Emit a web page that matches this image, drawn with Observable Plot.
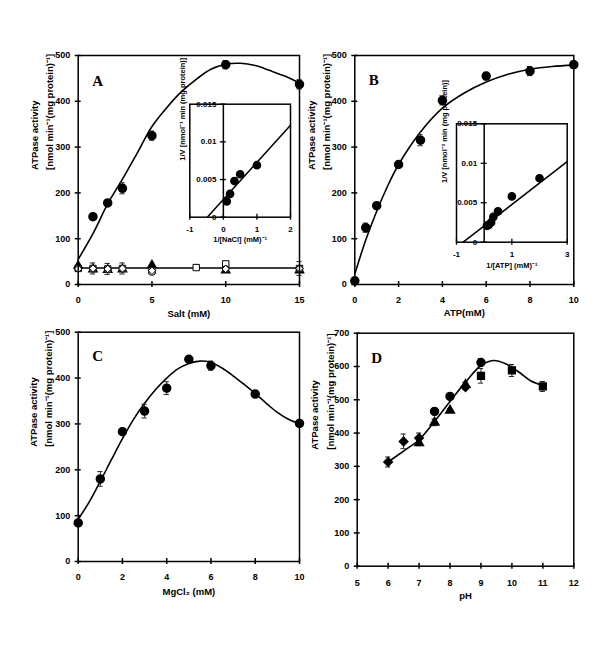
<!DOCTYPE html>
<html><head><meta charset="utf-8">
<script src="https://cdn.jsdelivr.net/npm/d3@7"></script>
<script src="https://cdn.jsdelivr.net/npm/@observablehq/plot@0.6"></script>
<style>
html,body{margin:0;padding:0;background:#fff;}
#fig{position:relative;width:600px;height:657px;background:#fff;overflow:hidden;}
#fig svg{position:absolute;max-width:none;}
</style></head><body><div id="fig"></div>
<script>
// ---------- Panel A : salt ----------
const saltX = [1, 2, 3, 5, 10, 15];
const saltY = [148, 178, 210, 325, 480, 437];
const saltErr = [4, 6, 12, 10, 9, 10];
const saltCurveX = [0, 1, 2, 3, 4, 5, 6, 7, 8, 9, 10, 11, 12, 13, 14, 15];
const saltCurveY = [55, 111, 176, 230, 287, 345, 386, 421, 448, 470, 481, 483, 478, 467, 455, 440];
const baseLineX = [0, 15];
const baseLineY = [36, 36];
const aTriX = [0, 1, 2, 3, 5, 10, 15];
const aTriY = [41, 33, 32, 33, 42, 31, 31];
const aSqX = [0, 1, 2, 3, 5, 8, 10, 15];
const aSqY = [35, 35, 34, 35, 30, 37, 45, 35];
const aSqErr = [0, 12, 12, 12, 0, 0, 0, 0];
const aCircX = [0, 1, 2, 3, 5, 10, 15];
const aCircY = [35, 34, 33, 34, 27, 34, 34];
const aDiaX = [0, 1, 2, 3, 5, 10, 15];
const aDiaY = [34, 35, 34, 35, 30, 34, 35];
const aDiaErr = [0, 0, 0, 0, 0, 0, 15];
const saltTicksX = [0, 5, 10, 15];
const actTicksY = [0, 100, 200, 300, 400, 500];

// Inset A : Lineweaver-Burk NaCl
const invNaClX = [0.1, 0.2, 0.33, 0.5, 1.0];
const invNaClY = [0.0021, 0.0031, 0.0048, 0.0057, 0.0069];
const naclFitX = [-0.48, 2];
const naclFitY = [0, 0.0122];
const insetATicksX = [-1, 0, 1, 2];
const insetTicksY = [0, 0.005, 0.01, 0.015];

// ---------- Panel B : ATP ----------
const atpX = [0, 0.5, 1, 2, 3, 4, 6, 8, 10];
const atpY = [8, 124, 172, 262, 315, 402, 455, 466, 480];
const atpErr = [5, 10, 5, 6, 12, 10, 8, 10, 8];
const atpCurveX = [0, 0.5, 1, 1.5, 2, 3, 4, 5, 6, 7, 8, 9, 10];
const atpCurveY = [23, 97, 160, 215, 262, 333, 385, 418, 442, 459, 470, 476, 479];
const atpTicksX = [0, 2, 4, 6, 8, 10];

// Inset B : Lineweaver-Burk ATP
const invAtpX = [0.1, 0.125, 0.167, 0.25, 0.33, 0.5, 1, 2];
const invAtpY = [0.00208, 0.00215, 0.0022, 0.0025, 0.0032, 0.0039, 0.0058, 0.0081];
const atpFitX = [-0.76, 3];
const atpFitY = [0, 0.0102];
const insetBTicksX = [-1, 1, 3];

// ---------- Panel C : MgCl2 ----------
const mgX = [0, 1, 2, 3, 4, 5, 6, 8, 10];
const mgY = [84, 180, 283, 328, 378, 441, 427, 365, 301];
const mgErr = [5, 16, 5, 15, 14, 5, 10, 5, 5];
const mgCurveX = [0, 0.5, 1, 1.5, 2, 2.5, 3, 3.5, 4, 4.5, 5, 5.5, 6, 6.5, 7, 7.5, 8, 8.5, 9, 9.5, 10];
const mgCurveY = [92, 130, 175, 222, 268, 310, 345, 375, 400, 420, 432, 437, 434, 422, 405, 386, 366, 345, 325, 310, 300];
const mgTicksX = [0, 2, 4, 6, 8, 10];

// ---------- Panel D : pH ----------
const dDiaX = [6, 6.5, 7, 8.5];
const dDiaY = [313, 375, 385, 538];
const dDiaErr = [15, 22, 15, 8];
const dTriX = [7, 7.5, 8, 8.5];
const dTriY = [370, 432, 468, 545];
const dTriErr = [8, 10, 5, 8];
const dCircX = [7.5, 8, 9];
const dCircY = [465, 510, 612];
const dCircErr = [8, 6, 12];
const dSqX = [9, 10, 11];
const dSqY = [572, 588, 540];
const dSqErr = [22, 18, 15];
const phCurveX = [6, 6.5, 7, 7.5, 8, 8.5, 9, 9.4, 9.8, 10.2, 10.6, 11];
const phCurveY = [313, 346, 380, 435, 495, 553, 603, 618, 608, 585, 557, 543];
const phTicksX = [5, 6, 7, 8, 9, 10, 11, 12];
const phTicksY = [0, 100, 200, 300, 400, 500, 600, 700];

// ---------- Texts ----------
const yTitle = ["ATPase activity", "[nmol min\u207B\u00B9(mg protein)\u207B\u00B9]"];
const insetYTitle = "1/V [nmol\u207B\u00B9 min (mg protein)]";

// ---------- helpers ----------
const FONT = '"Liberation Sans", Arial, Helvetica, sans-serif';
const SERIF = '"Liberation Serif", "Times New Roman", serif';
const fig = document.getElementById("fig");
const zip = (xs, ys, es) => xs.map((x, i) => ({x, y: ys[i], e: es ? es[i] : 0}));

function errorMarks(data, cw) {
  const d = data.filter(p => p.e > 0);
  const s = {stroke: "#222", strokeWidth: 1};
  return [
    Plot.ruleX(d, {x: "x", y1: p => p.y - p.e, y2: p => p.y + p.e, ...s}),
    Plot.ruleY(d, {y: p => p.y + p.e, x1: p => p.x - cw, x2: p => p.x + cw, ...s}),
    Plot.ruleY(d, {y: p => p.y - p.e, x1: p => p.x - cw, x2: p => p.x + cw, ...s})
  ];
}

function place(svg, left, top) {
  svg.style.position = "absolute";
  svg.style.left = left + "px";
  svg.style.top = top + "px";
  svg.style.background = "transparent";
  svg.style.overflow = "visible";
  fig.appendChild(svg);
}

function mainPanel(cfg) {
  const fw = cfg.width - cfg.ml - cfg.mr, fh = cfg.height - cfg.mt - cfg.mb;
  const cw = 2.6 * (cfg.xDomain[1] - cfg.xDomain[0]) / fw;
  const svg = Plot.plot({
    width: cfg.width, height: cfg.height,
    marginLeft: cfg.ml, marginRight: cfg.mr, marginTop: cfg.mt, marginBottom: cfg.mb,
    x: {domain: cfg.xDomain}, y: {domain: cfg.yDomain},
    style: {background: "transparent", fontFamily: FONT, fontWeight: "bold", color: "black", overflow: "visible"},
    marks: [
      ...cfg.content(cw),
      Plot.frame({stroke: "black", strokeWidth: 1.5}),
      Plot.tickX(cfg.xTicks, {x: d => d, insetTop: fh - 6, dy: 3, stroke: "black", strokeWidth: 1.5}),
      Plot.tickY(cfg.yTicks, {y: d => d, insetRight: fw - 6, dx: -3, stroke: "black", strokeWidth: 1.5}),
      Plot.axisX({ticks: cfg.xTicks, tickSize: 0, tickPadding: cfg.xPad, label: null, tickFormat: d => String(d), fontSize: 9, fontWeight: "bold"}),
      Plot.axisY({ticks: cfg.yTicks, tickSize: 0, tickPadding: 8, label: null, tickFormat: d => String(d), fontSize: 9, fontWeight: "bold"}),
      Plot.text([yTitle.join("\n")], {text: d => d, frameAnchor: "left", dx: cfg.yTitleDx, rotate: -90, lineHeight: 1.6, fontSize: 9.5, fontWeight: "bold"}),
      Plot.text([cfg.xTitle], {text: d => d, frameAnchor: "bottom", dy: cfg.xTitleDy, fontSize: 9.5, fontWeight: "bold"}),
      Plot.text([cfg.letter], {text: d => d, frameAnchor: "top-left", dx: 14, dy: cfg.letterDy, textAnchor: "start", fontFamily: SERIF, fontSize: 15, fontWeight: "bold"})
    ]
  });
  place(svg, cfg.left, cfg.top);
}

function insetPanel(cfg) {
  const fw = cfg.width - cfg.ml - cfg.mr, fh = cfg.height - cfg.mt - cfg.mb;
  const [x0, x1] = cfg.xDomain;
  const axisPx = fw * (0 - x0) / (x1 - x0);
  const svg = Plot.plot({
    width: cfg.width, height: cfg.height,
    marginLeft: cfg.ml, marginRight: cfg.mr, marginTop: cfg.mt, marginBottom: cfg.mb,
    x: {domain: cfg.xDomain}, y: {domain: cfg.yDomain, axis: null},
    style: {background: "transparent", fontFamily: FONT, fontWeight: "bold", color: "black", overflow: "visible"},
    marks: [
      Plot.ruleX([0], {stroke: "black", strokeWidth: 1.5}),
      Plot.line(zip(cfg.fitX, cfg.fitY), {x: "x", y: "y", stroke: "black", strokeWidth: 1.5}),
      Plot.dot(zip(cfg.px, cfg.py), {x: "x", y: "y", r: 3.6, fill: "black", stroke: "black"}),
      Plot.text(cfg.yTicks, {x: () => 0, y: d => d, text: d => String(d), dx: -7, textAnchor: "end", fontSize: 8, fontWeight: "bold"}),
      Plot.frame({stroke: "black", strokeWidth: 1.5}),
      Plot.tickY(cfg.yTicks, {y: d => d, insetLeft: axisPx - 3, insetRight: fw - axisPx - 3, stroke: "black", strokeWidth: 1.3}),
      Plot.tickX(cfg.xTicks, {x: d => d, insetTop: fh - 6, dy: 3, stroke: "black", strokeWidth: 1.3}),
      Plot.axisX({ticks: cfg.xTicks, tickSize: 0, tickPadding: cfg.xPad, label: null, tickFormat: d => String(d), fontSize: 8, fontWeight: "bold"}),
      Plot.text([insetYTitle], {text: d => d, frameAnchor: "left", dx: cfg.yTitleDx, rotate: -90, fontSize: 7.5, fontWeight: "bold"}),
      Plot.text([cfg.xTitle], {text: d => d, frameAnchor: "bottom", dy: cfg.xTitleDy, fontSize: 7.5, fontWeight: "bold"})
    ]
  });
  place(svg, cfg.left, cfg.top);
}

const openDot = {stroke: "black", strokeWidth: 1, fill: "white", r: 4};
const fillDot = {stroke: "black", fill: "black", r: 4};

// Panel A
mainPanel({
  left: 0, top: 0, width: 305, height: 330, ml: 77.7, mr: 6, mt: 55, mb: 46,
  xDomain: [0, 15], yDomain: [0, 500], xTicks: saltTicksX, yTicks: actTicksY,
  xPad: 12, xTitle: "Salt (mM)", xTitleDy: 32, yTitleDx: -37.5, letter: "A", letterDy: 20,
  content: cw => {
    const main = zip(saltX, saltY, saltErr);
    const sq = zip(aSqX, aSqY, aSqErr), di = zip(aDiaX, aDiaY, aDiaErr);
    return [
      Plot.line(zip(baseLineX, baseLineY), {x: "x", y: "y", stroke: "black", strokeWidth: 1.5}),
      ...errorMarks(sq, cw), ...errorMarks(di, cw),
      Plot.dot(zip(aTriX, aTriY), {x: "x", y: "y", symbol: "triangle", stroke: "black", fill: "black", r: 3}),
      Plot.dot(sq, {x: "x", y: "y", symbol: "square", ...openDot, r: 3.6}),
      Plot.dot(zip(aCircX, aCircY), {x: "x", y: "y", symbol: "circle", ...openDot, r: 3.3}),
      Plot.dot(di, {x: "x", y: "y", symbol: "diamond2", ...openDot, r: 3.3}),
      Plot.line(zip(saltCurveX, saltCurveY), {x: "x", y: "y", curve: "catmull-rom", stroke: "black", strokeWidth: 1.6}),
      ...errorMarks(main, cw),
      Plot.dot(main, {x: "x", y: "y", ...fillDot})
    ];
  }
});

// Panel B
mainPanel({
  left: 300, top: 0, width: 300, height: 330, ml: 54.3, mr: 26.7, mt: 55, mb: 46,
  xDomain: [0, 10], yDomain: [0, 500], xTicks: atpTicksX, yTicks: actTicksY,
  xPad: 12, xTitle: "ATP(mM)", xTitleDy: 31, yTitleDx: -37.5, letter: "B", letterDy: 19,
  content: cw => {
    const main = zip(atpX, atpY, atpErr);
    return [
      Plot.line(zip(atpCurveX, atpCurveY), {x: "x", y: "y", curve: "catmull-rom", stroke: "black", strokeWidth: 1.6}),
      ...errorMarks(main, cw),
      Plot.dot(main, {x: "x", y: "y", ...fillDot})
    ];
  }
});

// Panel C
mainPanel({
  left: 0, top: 310, width: 305, height: 300, ml: 77.7, mr: 6, mt: 21.7, mb: 49,
  xDomain: [0, 10], yDomain: [0, 500], xTicks: mgTicksX, yTicks: actTicksY,
  xPad: 12, xTitle: "MgCl\u2082 (mM)", xTitleDy: 33, yTitleDx: -38.5, letter: "C", letterDy: 18,
  content: cw => {
    const main = zip(mgX, mgY, mgErr);
    return [
      Plot.line(zip(mgCurveX, mgCurveY), {x: "x", y: "y", curve: "catmull-rom", stroke: "black", strokeWidth: 1.6}),
      ...errorMarks(main, cw),
      Plot.dot(main, {x: "x", y: "y", ...fillDot})
    ];
  }
});

// Panel D
mainPanel({
  left: 300, top: 310, width: 300, height: 300, ml: 56.7, mr: 26.7, mt: 22.7, mb: 44.3,
  xDomain: [5, 12], yDomain: [0, 700], xTicks: phTicksX, yTicks: phTicksY,
  xPad: 13, xTitle: "pH", xTitleDy: 33, yTitleDx: -36, letter: "D", letterDy: 19,
  content: cw => {
    const di = zip(dDiaX, dDiaY, dDiaErr), tr = zip(dTriX, dTriY, dTriErr);
    const ci = zip(dCircX, dCircY, dCircErr), sq = zip(dSqX, dSqY, dSqErr);
    return [
      Plot.line(zip(phCurveX, phCurveY), {x: "x", y: "y", curve: "catmull-rom", stroke: "black", strokeWidth: 1.6}),
      ...errorMarks(di, cw), ...errorMarks(tr, cw), ...errorMarks(ci, cw), ...errorMarks(sq, cw),
      Plot.dot(di, {x: "x", y: "y", symbol: "diamond2", ...fillDot, r: 3.8}),
      Plot.dot(tr, {x: "x", y: "y", symbol: "triangle", stroke: "black", fill: "black", r: 3.2}),
      Plot.dot(ci, {x: "x", y: "y", symbol: "circle", ...fillDot}),
      Plot.dot(sq, {x: "x", y: "y", symbol: "square", ...fillDot, r: 3.8})
    ];
  }
});

// Inset A
insetPanel({
  left: 165, top: 95, width: 130, height: 155, ml: 24.3, mr: 5, mt: 8.7, mb: 33.3,
  xDomain: [-1, 2], yDomain: [0, 0.015], xTicks: insetATicksX, yTicks: insetTicksY,
  px: invNaClX, py: invNaClY, fitX: naclFitX, fitY: naclFitY,
  xPad: 9.5, xTitle: "1/[NaCl] (mM)\u207B\u00B9", xTitleDy: 25, yTitleDx: -7.6
});

// Inset B
insetPanel({
  left: 430, top: 115, width: 145, height: 160, ml: 26, mr: 8.3, mt: 8.3, mb: 33.3,
  xDomain: [-1, 3], yDomain: [0, 0.015], xTicks: insetBTicksX, yTicks: insetTicksY,
  px: invAtpX, py: invAtpY, fitX: atpFitX, fitY: atpFitY,
  xPad: 9.5, xTitle: "1/[ATP] (mM)\u207B\u00B9", xTitleDy: 25.5, yTitleDx: -12
});
</script></body></html>
